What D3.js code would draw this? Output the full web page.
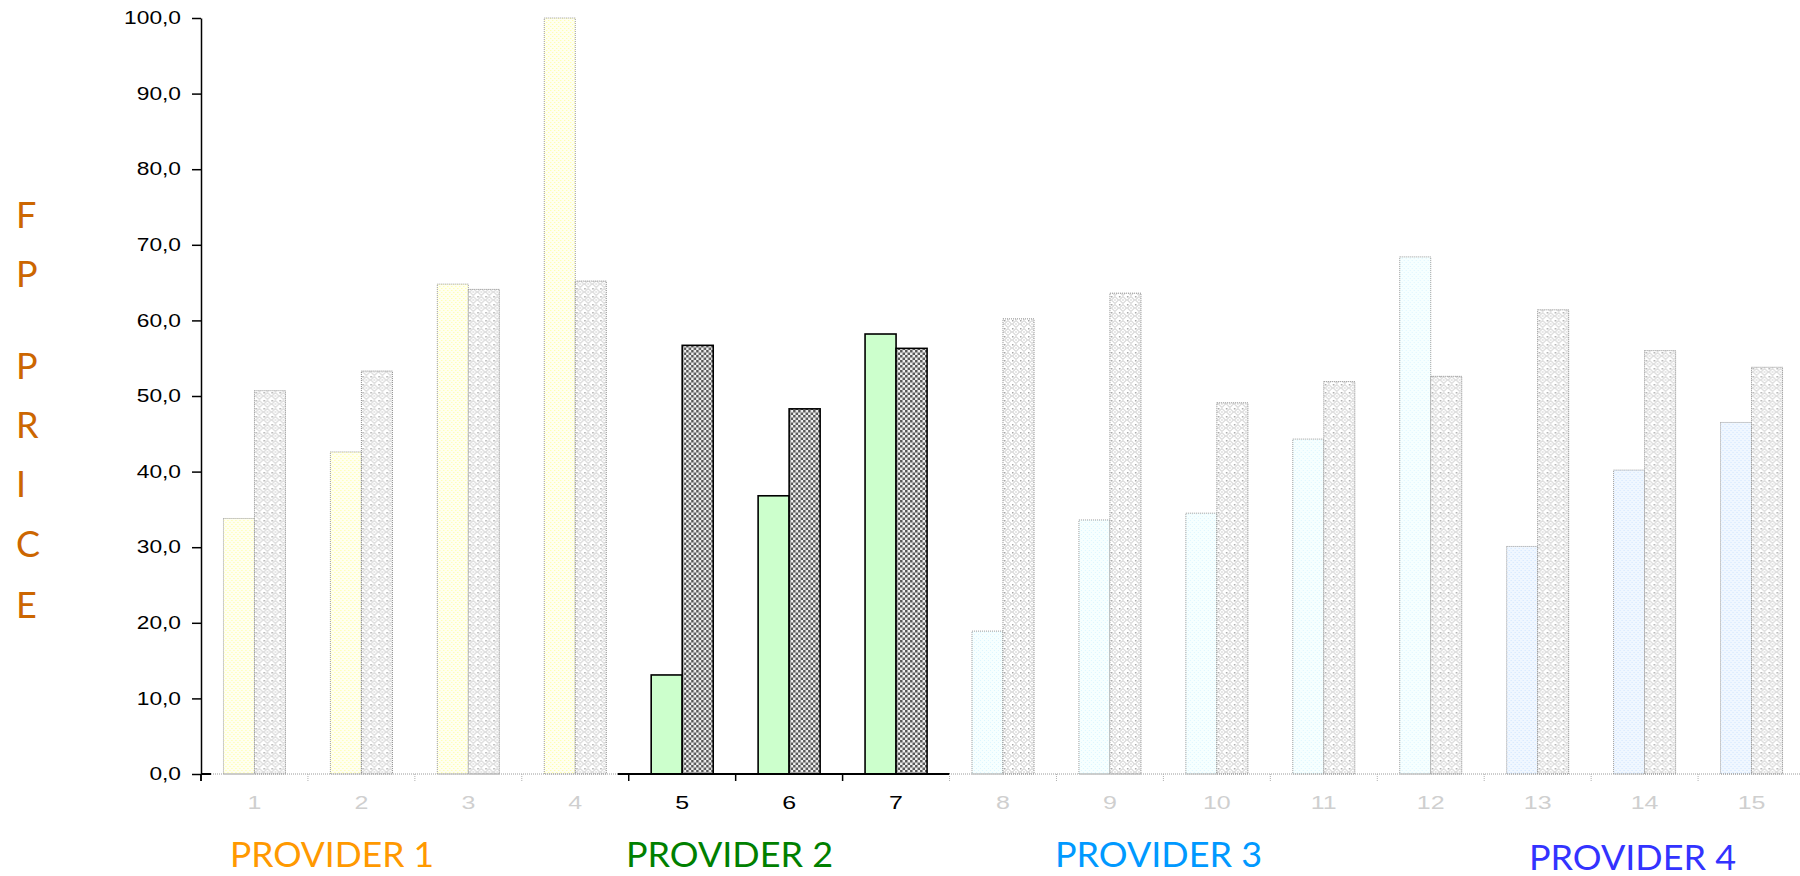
<!DOCTYPE html>
<html>
<head>
<meta charset="utf-8">
<script src="https://cdn.jsdelivr.net/npm/d3@7"></script>
<style>
  html, body { margin: 0; padding: 0; background: #ffffff; }
  svg { display: block; }
</style>
</head>
<body>
<svg id="chart" width="1800" height="876"></svg>
<script>
// ---- data ----
const categories = ["1","2","3","4","5","6","7","8","9","10","11","12","13","14","15"];
const providerOfCategory = [0,0,0,0,1,1,1,2,2,2,2,2,3,3,3];
const seriesA = [33.8, 42.6, 64.8, 100.0, 13.1, 36.8, 58.2, 18.9, 33.6, 34.5, 44.3, 68.4, 30.1, 40.2, 46.5];
const seriesB = [50.7, 53.3, 64.1, 65.2, 56.7, 48.3, 56.3, 60.2, 63.6, 49.1, 51.9, 52.6, 61.4, 56.0, 53.8];
const providers = ["PROVIDER 1", "PROVIDER 2", "PROVIDER 3", "PROVIDER 4"];
const providerColors = ["#ff9900", "#008000", "#0099ff", "#3333ff"];
const yTickValues = [0, 10, 20, 30, 40, 50, 60, 70, 80, 90, 100];
const yTitleLetters = ["F", "P", "P", "R", "I", "C", "E"];
const activeProvider = 1;

// ---- layout ----
const svg = d3.select("#chart");
const plotLeft = 201, plotRight = 1805, plotTop = 18, plotBottom = 774;

const x = d3.scaleBand()
  .domain(categories)
  .range([plotLeft, plotRight])
  .paddingInner(0.42)
  .paddingOuter(0.21);
const xSub = d3.scaleBand().domain(["a", "b"]).range([0, x.bandwidth()]);
const y = d3.scaleLinear().domain([0, 100]).range([plotBottom, plotTop]);
const step = x.step();
const boundary = i => plotLeft + i * step;

// ---- fill patterns ----
const defs = svg.append("defs");

function dotPattern(id, bg, dot) {
  const p = defs.append("pattern").attr("id", id)
    .attr("patternUnits", "userSpaceOnUse").attr("width", 4).attr("height", 4);
  p.append("rect").attr("width", 4).attr("height", 4).attr("fill", bg);
  p.append("rect").attr("x", 0).attr("y", 0).attr("width", 1).attr("height", 1).attr("fill", dot);
  p.append("rect").attr("x", 2).attr("y", 2).attr("width", 1).attr("height", 1).attr("fill", dot);
}
dotPattern("fillYellow", "#fffff0", "#ffff9c");
dotPattern("fillCyan", "#f6ffff", "#ddf6ff");
dotPattern("fillBlue", "#f0f7ff", "#cfe4ff");

// light diamond lattice for the muted second series
(function () {
  const p = defs.append("pattern").attr("id", "fillLattice")
    .attr("patternUnits", "userSpaceOnUse").attr("width", 8).attr("height", 8);
  p.append("rect").attr("width", 8).attr("height", 8).attr("fill", "#ffffff");
  p.append("path").attr("d", "M4,0.5 L7.5,4 L4,7.5 L0.5,4 Z")
    .attr("fill", "none").attr("stroke", "#c2c2c2").attr("stroke-width", 1);
  p.append("rect").attr("x", 3.5).attr("y", 3.5).attr("width", 1).attr("height", 1).attr("fill", "#a0a0a0");
  p.append("rect").attr("x", 0).attr("y", 0).attr("width", 1.5).attr("height", 1.5).attr("fill", "#a8a8a8");
})();

// checkerboard for the highlighted second series
(function () {
  const p = defs.append("pattern").attr("id", "fillChecker")
    .attr("patternUnits", "userSpaceOnUse").attr("width", 5).attr("height", 5);
  p.append("rect").attr("width", 5).attr("height", 5).attr("fill", "#f2f2f2");
  p.append("rect").attr("x", 0).attr("y", 0).attr("width", 2.5).attr("height", 2.5).attr("fill", "#585858");
  p.append("rect").attr("x", 2.5).attr("y", 2.5).attr("width", 2.5).attr("height", 2.5).attr("fill", "#585858");
})();

const mutedFirstFill = ["url(#fillYellow)", null, "url(#fillCyan)", "url(#fillBlue)"];

// ---- bars ----
const rows = categories.map((c, i) => ({
  cat: c, i, p: providerOfCategory[i], a: seriesA[i], b: seriesB[i]
}));

const groups = svg.append("g").selectAll("g")
  .data(rows).join("g")
  .attr("transform", d => `translate(${x(d.cat)},0)`);

groups.append("rect")
  .attr("x", xSub("a"))
  .attr("width", xSub.bandwidth())
  .attr("y", d => y(d.a))
  .attr("height", d => y(0) - y(d.a))
  .attr("fill", d => d.p === activeProvider ? "#ccffcc" : mutedFirstFill[d.p])
  .attr("stroke", d => d.p === activeProvider ? "#000" : "#9a9a9a")
  .attr("stroke-width", d => d.p === activeProvider ? 1.6 : 1)
  .attr("stroke-dasharray", d => d.p === activeProvider ? null : "1,1");

groups.append("rect")
  .attr("x", xSub("b"))
  .attr("width", xSub.bandwidth())
  .attr("y", d => y(d.b))
  .attr("height", d => y(0) - y(d.b))
  .attr("fill", d => d.p === activeProvider ? "url(#fillChecker)" : "url(#fillLattice)")
  .attr("stroke", d => d.p === activeProvider ? "#000" : "#8a8a8a")
  .attr("stroke-width", d => d.p === activeProvider ? 1.6 : 1)
  .attr("stroke-dasharray", d => d.p === activeProvider ? null : "1,1");

// ---- category axis line and separators ----
const activeIdx = rows.filter(d => d.p === activeProvider).map(d => d.i);
const actStart = d3.min(activeIdx), actEnd = d3.max(activeIdx) + 1;

svg.append("line")
  .attr("x1", plotLeft).attr("x2", 1800)
  .attr("y1", y(0)).attr("y2", y(0))
  .attr("stroke", "#9a9a9a").attr("stroke-width", 1).attr("stroke-dasharray", "1,1");

svg.append("line")
  .attr("x1", boundary(actStart) - 11).attr("x2", boundary(actEnd))
  .attr("y1", y(0)).attr("y2", y(0))
  .attr("stroke", "#000").attr("stroke-width", 2);

svg.append("line")
  .attr("x1", plotLeft).attr("x2", plotLeft + 10)
  .attr("y1", y(0)).attr("y2", y(0))
  .attr("stroke", "#000").attr("stroke-width", 2);

svg.append("g").selectAll("line")
  .data(d3.range(0, categories.length + 1)).join("line")
  .attr("x1", i => boundary(i)).attr("x2", i => boundary(i))
  .attr("y1", y(0)).attr("y2", y(0) + 7)
  .attr("stroke", i => (i === 0 || (i >= actStart && i < actEnd)) ? "#000" : "#b0b0b0")
  .attr("stroke-width", i => (i === 0 || (i >= actStart && i < actEnd)) ? 1.5 : 1)
  .attr("stroke-dasharray", i => (i === 0 || (i >= actStart && i < actEnd)) ? null : "1,1");

// category labels
const xAxis = svg.append("g")
  .attr("transform", `translate(0,${y(0)})`)
  .call(d3.axisBottom(x).tickSize(0).tickPadding(0));
xAxis.select(".domain").remove();
xAxis.selectAll("text")
  .attr("y", 0).attr("dy", null)
  .attr("transform", "translate(0,35) scale(1.35,1)")
  .style("font-family", "'Liberation Sans', Arial, sans-serif")
  .style("font-size", "18.5px")
  .attr("fill", (d, i) => providerOfCategory[i] === activeProvider ? "#000" : "#cfcfcf");

// ---- value axis ----
const yAxis = svg.append("g")
  .attr("transform", `translate(${plotLeft},0)`)
  .call(d3.axisLeft(y)
    .tickValues(yTickValues)
    .tickSizeInner(9).tickSizeOuter(0)
    .tickFormat(d => d3.format(".1f")(d).replace(".", ",")));
yAxis.select(".domain")
  .attr("stroke", "#000").attr("stroke-width", 1.5);
yAxis.selectAll(".tick line").attr("stroke", "#000").attr("stroke-width", 1.5);
yAxis.selectAll(".tick text")
  .attr("x", 0)
  .attr("transform", "translate(-20,0) scale(1.3,1)")
  .style("font-family", "'Liberation Sans', Arial, sans-serif")
  .style("font-size", "17.5px")
  .attr("fill", "#000");

svg.append("line")
  .attr("x1", plotLeft).attr("x2", plotLeft)
  .attr("y1", y(0)).attr("y2", y(0) + 7)
  .attr("stroke", "#000").attr("stroke-width", 1.5);

// ---- vertical axis title, one letter per line ----
const titleBaselines = [228, 287, 379, 438, 497, 557, 618];
svg.append("g").selectAll("text")
  .data(yTitleLetters).join("text")
  .attr("x", 16)
  .attr("y", (d, i) => titleBaselines[i])
  .text(d => d)
  .style("font-family", "Lato, 'Open Sans', sans-serif")
  .style("font-size", "36px")
  .attr("fill", "#cc6600");

// ---- provider captions ----
const captionPos = [
  { x: 230, y: 867, w: 204 },
  { x: 626, y: 867, w: 207 },
  { x: 1055, y: 867, w: 207 },
  { x: 1529, y: 870, w: 207 }
];
svg.append("g").selectAll("text")
  .data(providers).join("text")
  .attr("x", (d, i) => captionPos[i].x)
  .attr("y", (d, i) => captionPos[i].y)
  .attr("textLength", (d, i) => captionPos[i].w)
  .attr("lengthAdjust", "spacingAndGlyphs")
  .text(d => d)
  .style("font-family", "Lato, 'Open Sans', sans-serif")
  .style("font-size", "35px")
  .attr("fill", (d, i) => providerColors[i]);
</script>
</body>
</html>
